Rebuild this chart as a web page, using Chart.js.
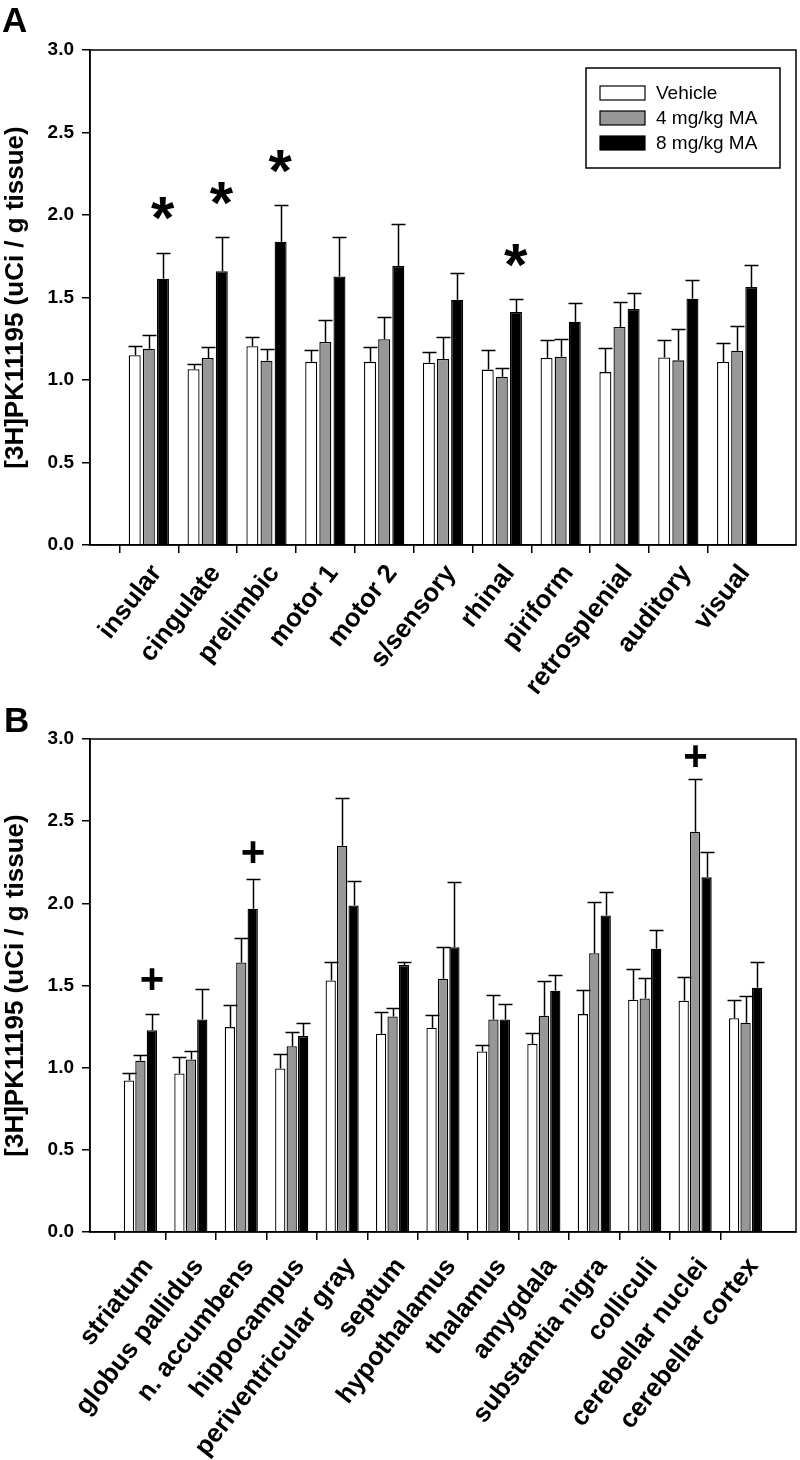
<!DOCTYPE html>
<html>
<head>
<meta charset="utf-8">
<script src="https://cdn.jsdelivr.net/npm/chart.js@4.4.1/dist/chart.umd.min.js"></script>
<style>
  body { margin: 0; background: #fff; }
  .panel { position: absolute; left: 0; }
</style>
</head>
<body>
<div class="panel" style="top:0"><canvas id="chartA" width="800" height="700"></canvas></div>
<div class="panel" style="top:700px"><canvas id="chartB" width="800" height="760"></canvas></div>
<script>
// [3H]PK11195 binding by brain region - two panels
const seriesNames = ['Vehicle', '4 mg/kg MA', '8 mg/kg MA'];
const seriesColors = ['#ffffff', '#979797', '#000000'];
const yTicks = [0, 0.5, 1.0, 1.5, 2.0, 2.5, 3.0];

// Panel A - cortical regions
const regionsA = ['insular', 'cingulate', 'prelimbic', 'motor 1', 'motor 2', 's/sensory',
  'rhinal', 'piriform', 'retrosplenial', 'auditory', 'visual'];
const vehicleA = [1.15, 1.065, 1.205, 1.11, 1.11, 1.105, 1.063, 1.133, 1.048, 1.137, 1.109];
const vehicleErrA = [0.056, 0.034, 0.057, 0.07, 0.09, 0.067, 0.119, 0.109, 0.146, 0.105, 0.113];
const ma4A = [1.19, 1.133, 1.117, 1.23, 1.247, 1.127, 1.02, 1.141, 1.321, 1.119, 1.178];
const ma4ErrA = [0.085, 0.067, 0.071, 0.135, 0.135, 0.132, 0.053, 0.109, 0.15, 0.19, 0.149];
const ma8A = [1.614, 1.659, 1.838, 1.628, 1.691, 1.487, 1.412, 1.353, 1.43, 1.493, 1.564];
const ma8ErrA = [0.156, 0.206, 0.221, 0.24, 0.253, 0.161, 0.077, 0.116, 0.097, 0.115, 0.133];
const starsA = [['insular', 2], ['cingulate', 2], ['prelimbic', 2], ['rhinal', 2]];

// Panel B - subcortical regions
const regionsB = ['striatum', 'globus pallidus', 'n. accumbens', 'hippocampus', 'periventricular gray',
  'septum', 'hypothalamus', 'thalamus', 'amygdala', 'substantia nigra', 'colliculi',
  'cerebellar nuclei', 'cerebellar cortex'];
const vehicleB = [0.922, 0.965, 1.247, 0.995, 1.531, 1.206, 1.243, 1.099, 1.145, 1.326, 1.413, 1.407, 1.301];
const vehicleErrB = [0.045, 0.101, 0.133, 0.087, 0.109, 0.13, 0.075, 0.038, 0.065, 0.144, 0.189, 0.146, 0.108];
const ma4B = [1.042, 1.05, 1.64, 1.131, 2.351, 1.312, 1.541, 1.293, 1.316, 1.697, 1.421, 2.436, 1.273];
const ma4ErrB = [0.038, 0.053, 0.152, 0.083, 0.289, 0.054, 0.195, 0.151, 0.209, 0.313, 0.126, 0.322, 0.162];
const ma8B = [1.228, 1.293, 1.967, 1.192, 1.987, 1.624, 1.733, 1.293, 1.468, 1.926, 1.724, 2.158, 1.486];
const ma8ErrB = [0.098, 0.183, 0.18, 0.081, 0.148, 0.022, 0.396, 0.092, 0.095, 0.146, 0.111, 0.152, 0.154];
const plusesB = [['striatum', 2], ['n. accumbens', 2], ['cerebellar nuclei', 1]];

const FONT = '"Liberation Sans", Arial, Helvetica, sans-serif';

// pad categories with an empty slot on each side (axis has a blank step at both ends)
const pad = arr => [null, ...arr, null];

const errorBars = {
  id: 'errorBars',
  afterDatasetsDraw(chart) {
    const { ctx } = chart, y = chart.scales.y;
    ctx.save();
    ctx.strokeStyle = '#000';
    ctx.lineWidth = 1.5;
    chart.data.datasets.forEach((ds, i) => {
      chart.getDatasetMeta(i).data.forEach((bar, j) => {
        const v = ds.data[j], e = ds.errors[j];
        if (v == null) return;
        const top = Math.round(y.getPixelForValue(v + e)) + 0.5;
        const x = Math.round(bar.x) + 0.5;
        ctx.beginPath();
        ctx.moveTo(x, bar.y);
        ctx.lineTo(x, top);
        ctx.moveTo(x - 7, top);
        ctx.lineTo(x + 7, top);
        ctx.stroke();
      });
    });
    ctx.restore();
  }
};

// significance symbols above the error bar of the chosen bar
const sigMarks = {
  id: 'sigMarks',
  afterDatasetsDraw(chart, args, opts) {
    if (!opts.marks) return;
    const { ctx } = chart, y = chart.scales.y;
    ctx.save();
    ctx.font = opts.font;
    ctx.fillStyle = '#000';
    ctx.textAlign = 'center';
    ctx.textBaseline = 'alphabetic';
    const m = ctx.measureText(opts.symbol);
    opts.marks.forEach(([cat, s], k) => {
      const j = chart.data.labels.indexOf(cat);
      const ds = chart.data.datasets[s];
      const bar = chart.getDatasetMeta(s).data[j];
      const gap = Array.isArray(opts.gap) ? opts.gap[k] : opts.gap;
      const cy = y.getPixelForValue(ds.data[j] + ds.errors[j]) - gap;
      const bx = bar.x - (m.actualBoundingBoxRight - m.actualBoundingBoxLeft) / 2;
      const by = cy + (m.actualBoundingBoxAscent - m.actualBoundingBoxDescent) / 2;
      ctx.fillText(opts.symbol, bx, by);
    });
    ctx.restore();
  }
};

const boxLegend = {
  id: 'boxLegend',
  afterDraw(chart, args, opts) {
    if (!opts.show) return;
    const { ctx, chartArea } = chart;
    const w = 194, h = 100;
    const x0 = chartArea.right - 16 - w, y0 = chartArea.top + 18;
    ctx.save();
    ctx.strokeStyle = '#000';
    ctx.lineWidth = 1.5;
    ctx.strokeRect(x0, y0, w, h);
    ctx.font = '19px ' + FONT;
    ctx.textBaseline = 'middle';
    chart.data.datasets.forEach((ds, i) => {
      const cy = y0 + 25 + i * 25;
      ctx.fillStyle = ds.backgroundColor;
      ctx.fillRect(x0 + 14, cy - 7, 45, 14);
      ctx.lineWidth = 1.2;
      ctx.strokeRect(x0 + 14, cy - 7, 45, 14);
      ctx.fillStyle = '#000';
      ctx.fillText(ds.label, x0 + 70, cy + 1);
    });
    ctx.restore();
  }
};

const frame = {
  id: 'frame',
  afterDraw(chart, args, opts) {
    const { ctx, chartArea: a } = chart;
    ctx.save();
    ctx.strokeStyle = '#000';
    ctx.lineWidth = 1.5;
    ctx.strokeRect(a.left, a.top, a.right - a.left, a.bottom - a.top);
    ctx.font = 'bold 35px ' + FONT;
    ctx.fillStyle = '#000';
    ctx.textBaseline = 'alphabetic';
    ctx.fillText(opts.letter, opts.lx, opts.ly);
    ctx.restore();
  }
};

function makePanel(id, cfg) {
  const labels = ['', ...cfg.regions, ''];
  const n = labels.length;
  const sets = [cfg.vehicle, cfg.ma4, cfg.ma8];
  const errs = [cfg.vehicleErr, cfg.ma4Err, cfg.ma8Err];
  const tickCol = ctx => (ctx.index === 0 || ctx.index === n - 1) ? 'rgba(0,0,0,0)' : '#000';
  return new Chart(document.getElementById(id), {
    type: 'bar',
    data: {
      labels,
      datasets: sets.map((d, i) => ({
        label: seriesNames[i],
        data: pad(d),
        errors: pad(errs[i]),
        backgroundColor: seriesColors[i],
        borderColor: '#000',
        borderWidth: 1.3,
        categoryPercentage: cfg.catPct,
        barPercentage: cfg.barPct,
      })),
    },
    options: {
      responsive: false,
      animation: false,
      layout: { padding: { top: cfg.top, right: 4, left: 0, bottom: 0 } },
      plugins: {
        legend: { display: false },
        tooltip: { enabled: false },
        boxLegend: { show: cfg.legend },
        sigMarks: cfg.marks,
        frame: { letter: cfg.letter, lx: cfg.lx, ly: cfg.ly },
      },
      scales: {
        x: {
          offset: false,
          afterFit: s => { s.height = cfg.xHeight; s.paddingLeft = 0; s.paddingRight = 0; },
          grid: { drawOnChartArea: false, drawTicks: true, tickLength: 8, lineWidth: 1.5, color: tickCol, tickColor: tickCol },
          border: { color: '#000', width: 1.5 },
          ticks: {
            autoSkip: false, minRotation: 52, maxRotation: 52, padding: cfg.labelPad, labelOffset: 8,
            color: '#000', font: { family: FONT, size: 26, weight: 'bold' },
          },
        },
        y: {
          min: 0, max: 3,
          afterFit: s => { s.width = 90; },
          afterBuildTicks: s => { s.ticks = yTicks.map(v => ({ value: v })); },
          grid: { drawOnChartArea: false, drawTicks: true, tickLength: 8, lineWidth: 1.5, color: '#000' },
          border: { color: '#000', width: 1.5 },
          ticks: {
            padding: 8, color: '#000',
            font: { family: FONT, size: 19, weight: 'bold' },
            callback: v => Number(v).toFixed(1),
          },
          title: {
            display: true, text: '[3H]PK11195 (uCi / g tissue)', color: '#000',
            font: { family: FONT, size: 26, weight: 'bold' }, padding: { top: 0, bottom: 0 },
          },
        },
      },
    },
    plugins: [errorBars, sigMarks, boxLegend, frame],
  });
}

makePanel('chartA', {
  regions: regionsA, vehicle: vehicleA, vehicleErr: vehicleErrA, ma4: ma4A, ma4Err: ma4ErrA,
  ma8: ma8A, ma8Err: ma8ErrA, catPct: 0.72, barPct: 0.85, top: 50, xHeight: 155, legend: true,
  labelPad: 6,
  marks: { marks: starsA, symbol: '*', font: 'bold 60px ' + FONT, gap: 44 },
  letter: 'A', lx: 2, ly: 32,
});

makePanel('chartB', {
  regions: regionsB, vehicle: vehicleB, vehicleErr: vehicleErrB, ma4: ma4B, ma4Err: ma4ErrB,
  ma8: ma8B, ma8Err: ma8ErrB, catPct: 0.68, barPct: 0.9, top: 39, xHeight: 228, legend: false,
  labelPad: 12,
  marks: { marks: plusesB, symbol: '+', font: 'bold 42px ' + FONT, gap: [35, 27, 23] },
  letter: 'B', lx: 4, ly: 32,
});
</script>
</body>
</html>
